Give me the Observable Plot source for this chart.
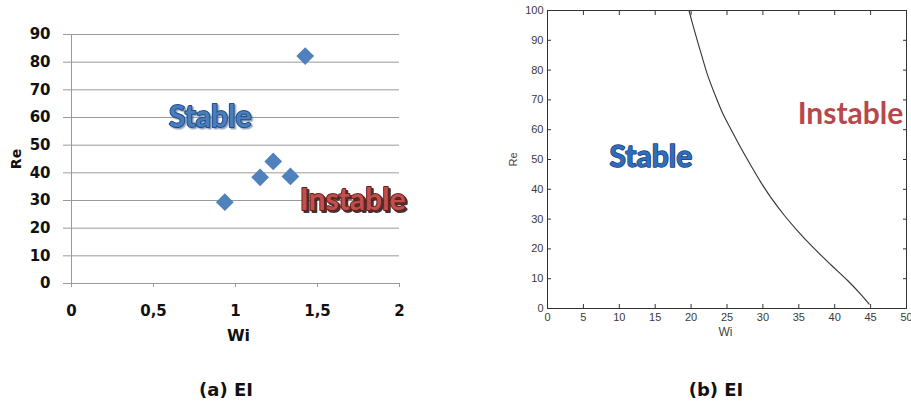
<!DOCTYPE html>
<html><head><meta charset="utf-8">
<script src="https://cdn.jsdelivr.net/npm/d3@7"></script>
<script src="https://cdn.jsdelivr.net/npm/@observablehq/plot@0.6"></script>
<style>
html,body{margin:0;padding:0;background:#fff;}
#wrap{position:relative;width:911px;height:407px;overflow:hidden;background:#fff;}
#a,#b{position:absolute;top:0;}
#a{left:0;} #b{left:460px;}
.cap{position:absolute;top:379px;font:bold 18px "DejaVu Sans";line-height:21px;color:#111;transform:translateX(-50%);white-space:nowrap;}
</style></head><body>
<div id="wrap"><div id="a"></div><div id="b"></div>
<div class="cap" style="left:226px">(a) EI</div>
<div class="cap" style="left:716px">(b) EI</div></div>
<script>
// ---- Panel (a): Excel scatter ----
const wiA = [0.935, 1.15, 1.23, 1.335, 1.425];
const reA = [29.4, 38.4, 44.1, 38.7, 82.2];
const xTicksA = [0, 0.5, 1, 1.5, 2];
const yTicksA = [0, 10, 20, 30, 40, 50, 60, 70, 80, 90];
const regionTextA = ["Stable", "Instable"];
const regionWiA = [0.846, 1.716];
const regionReA = [60, 30];

// ---- Panel (b): stability boundary curve ----
const wiB = [19.7, 20.46, 21.4, 22.3, 23.25, 24.4, 25.6, 27.0, 28.35, 29.7, 31.1, 33.0, 34.85, 37.2, 39.5, 41.8, 43.7, 44.8];
const reB = [100, 93.3, 85.5, 78.3, 72.2, 65.5, 59.9, 53.6, 47.9, 42.4, 37.3, 31.2, 26.0, 20.0, 14.6, 9.4, 4.6, 1.5];
const xTicksB = [0, 5, 10, 15, 20, 25, 30, 35, 40, 45, 50];
const yTicksB = [0, 10, 20, 30, 40, 50, 60, 70, 80, 90, 100];
const regionTextB = ["Stable", "Instable"];
const regionWiB = [14.4, 42.2];
const regionReB = [50.7, 65.1];

const comma = d => String(d).replace(".", ",");
const big = {fontSize: 30, fontFamily: "Lato", fontWeight: "bold", lineAnchor: "middle", textAnchor: "middle"};

const plotA = Plot.plot({
  width: 450, height: 345,
  marginLeft: 71, marginRight: 51, marginTop: 34, marginBottom: 62,
  style: {fontFamily: "DejaVu Sans", fontWeight: "bold", background: "#fff", overflow: "visible"},
  x: {domain: [0, 2]},
  y: {domain: [0, 90]},
  marks: [
    Plot.gridY(yTicksA, {stroke: "#9a9a9a", strokeOpacity: 1}),
    Plot.ruleX([0], {stroke: "#9a9a9a"}),
    Plot.axisY(yTicksA, {tickSize: 8, tickPadding: 13, stroke: "#9a9a9a", fill: "#111", fontSize: 15, label: null}),
    Plot.axisX(xTicksA, {tickSize: 4, tickPadding: 18, stroke: "#9a9a9a", fill: "#111", fontSize: 15, tickFormat: comma, label: null}),
    Plot.text(["Wi"], {text: d => d, frameAnchor: "bottom", dx: 3, dy: 52, fontSize: 16, fill: "#111", lineAnchor: "middle", textAnchor: "middle"}),
    Plot.text(["Re"], {text: d => d, frameAnchor: "left", dx: -55, rotate: -90, fontSize: 14, fill: "#111", lineAnchor: "middle", textAnchor: "middle"}),
    Plot.dot(d3.range(wiA.length), {x: i => wiA[i], y: i => reA[i], symbol: "diamond2", r: 8, fill: "#4F81BD", stroke: "none"}),
    Plot.text([0], {x: i => regionWiA[i], y: i => regionReA[i], text: i => regionTextA[i], ...big, fill: "#4A7EBB", stroke: "#1F4E8C", strokeWidth: 2}),
    Plot.text([1], {x: i => regionWiA[i], y: i => regionReA[i], text: i => regionTextA[i], ...big, fill: "#C0504D", stroke: "#6B1E1C", strokeWidth: 2})
  ]
});
document.getElementById("a").appendChild(plotA);

// soft drop shadows on the region labels of panel (a), as in the Excel word-art
const svgA = d3.select(plotA.tagName.toLowerCase() === "svg" ? plotA : plotA.querySelector("svg"));
const defs = svgA.insert("defs", ":first-child");
defs.append("filter").attr("id", "shStable").attr("x", "-10%").attr("y", "-20%").attr("width", "130%").attr("height", "150%")
  .append("feDropShadow").attr("dx", 1.5).attr("dy", 1.5).attr("stdDeviation", 0.6).attr("flood-color", "#3c5a8c").attr("flood-opacity", 0.55);
defs.append("filter").attr("id", "shInstable").attr("x", "-10%").attr("y", "-20%").attr("width", "130%").attr("height", "150%")
  .append("feDropShadow").attr("dx", 2).attr("dy", 2).attr("stdDeviation", 0.5).attr("flood-color", "#280808").attr("flood-opacity", 0.85);
svgA.selectAll("text").filter(function() { return this.textContent === "Stable"; }).attr("filter", "url(#shStable)");
svgA.selectAll("text").filter(function() { return this.textContent === "Instable"; }).attr("filter", "url(#shInstable)");

const plotB = Plot.plot({
  width: 451, height: 345,
  marginLeft: 87, marginRight: 5, marginTop: 10, marginBottom: 37,
  style: {fontFamily: "Liberation Sans, Arial", background: "#fff", overflow: "visible"},
  x: {domain: [0, 50]},
  y: {domain: [0, 100]},
  marks: [
    Plot.frame({stroke: "#333"}),
    Plot.axisX(xTicksB, {tickSize: -4, tickPadding: 9, stroke: "#333", fill: "#3a3a3a", fontSize: 11, label: null}),
    Plot.axisX(xTicksB, {anchor: "top", tickSize: -4, stroke: "#333", fill: "none", label: null}),
    Plot.axisY(yTicksB, {tickSize: -4, tickPadding: 8, stroke: "#333", fill: "#3a3a3a", fontSize: 11, label: null}),
    Plot.axisY(yTicksB, {anchor: "right", tickSize: -4, stroke: "#333", fill: "none", label: null}),
    Plot.text(["Wi"], {text: d => d, frameAnchor: "bottom", dx: -1.5, dy: 24, fontSize: 12, fill: "#444", lineAnchor: "middle", textAnchor: "middle"}),
    Plot.text(["Re"], {text: d => d, frameAnchor: "left", dx: -34, rotate: -90, fontSize: 11, fill: "#444", lineAnchor: "middle", textAnchor: "middle"}),
    Plot.line(d3.range(wiB.length), {x: i => wiB[i], y: i => reB[i], stroke: "#333", strokeWidth: 1.1, curve: "catmull-rom"}),
    Plot.text([0], {x: i => regionWiB[i], y: i => regionReB[i], text: i => regionTextB[i], ...big, fill: "#2F6DBA", stroke: "#1B3C7A", strokeWidth: 1.5}),
    Plot.text([1], {x: i => regionWiB[i], y: i => regionReB[i], text: i => regionTextB[i], ...big, fill: "#B8474B"})
  ]
});
document.getElementById("b").appendChild(plotB);
</script>
</body></html>
